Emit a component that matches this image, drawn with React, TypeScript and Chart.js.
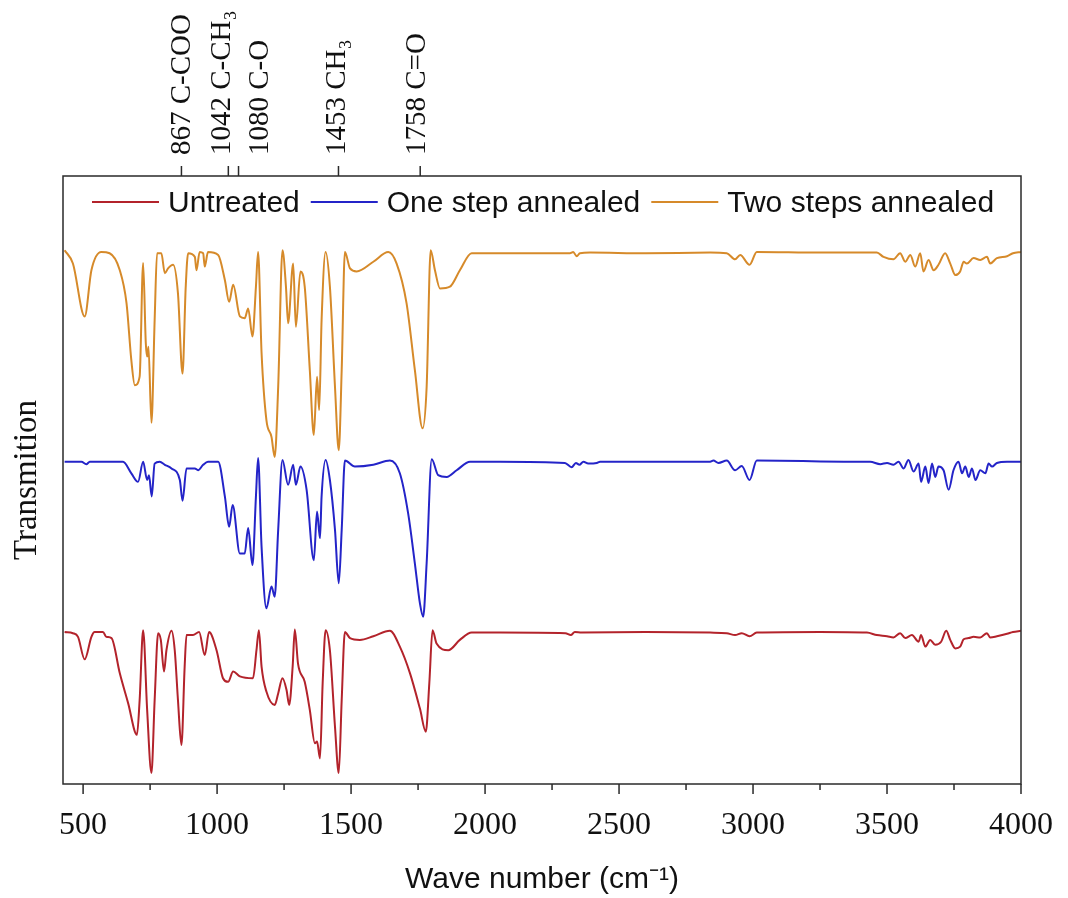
import { useEffect, useRef } from "react";
import { Chart, registerables } from "chart.js";

Chart.register(...registerables);

// Wavenumber range of the spectra (cm⁻¹)
const WAVE_MIN = 425;
const WAVE_MAX = 4000;

const majorTicks = [500, 1000, 1500, 2000, 2500, 3000, 3500, 4000];
const minorTicks = [750, 1250, 1750, 2250, 2750, 3250, 3750];

// Assigned absorption bands marked along the top edge
const peakWaves = [867, 1042, 1080, 1453, 1758];
const peakLabels = ["867 C-COO", "1042 C-CH₃", "1080 C-O", "1453 CH₃", "1758 C=O"];
// horizontal nudge (px) so neighbouring band labels do not collide
const peakLabelShift = [1, -6, 22, -1, -3];

const seriesNames = ["Untreated", "One step annealed", "Two steps annealed"];
const seriesColors = ["#B3232B", "#2424C8", "#D68A2A"];

// Stacked transmission traces: [wavenumber, offset transmission]
const untreated: [number, number][] = [
  [431, 25.0], [462, 24.8], [481, 24.2], [506, 20.5], [531, 24.2], [543, 25.0], [574, 25.0], [587, 24.2],
  [606, 24.0], [637, 18.2], [668, 13.3], [701, 8.1], [711, 13.8], [724, 25.3], [739, 12.2], [755, 1.8],
  [767, 13.8], [780, 24.8], [790, 23.7], [802, 18.5], [811, 22.0], [830, 25.2], [842, 22.0], [854, 13.8],
  [867, 6.4], [879, 19.3], [886, 24.5], [910, 24.5], [933, 25.0], [954, 21.2], [970, 25.0], [998, 22.0],
  [1022, 17.4], [1041, 16.8], [1060, 18.5], [1085, 17.7], [1134, 17.4], [1147, 22.0], [1156, 25.3],
  [1166, 19.3], [1184, 15.2], [1215, 13.0], [1228, 14.9], [1244, 17.4], [1259, 15.5], [1269, 13.0],
  [1282, 19.3], [1290, 25.4], [1302, 19.8], [1327, 16.8], [1346, 12.2], [1365, 6.7], [1373, 7.0],
  [1384, 4.2], [1394, 16.6], [1405, 25.3], [1421, 22.0], [1440, 9.4], [1454, 1.8], [1465, 13.8],
  [1477, 25.0], [1496, 24.0], [1533, 23.7], [1583, 24.3], [1645, 25.2], [1682, 22.6], [1720, 18.2],
  [1757, 12.4], [1779, 8.6], [1792, 16.6], [1804, 25.3], [1819, 23.1], [1863, 22.0], [1906, 23.7],
  [1950, 24.9], [2056, 24.9], [2300, 24.8], [2320, 24.5], [2335, 25.0], [2360, 24.9], [2600, 25.0],
  [2840, 24.9], [2902, 24.8], [2933, 24.5], [2958, 24.8], [2987, 24.3], [3014, 24.9], [3250, 25.0],
  [3425, 24.9], [3462, 24.5], [3500, 24.3], [3524, 24.1], [3549, 24.8], [3568, 24.0], [3593, 24.5],
  [3618, 23.4], [3627, 24.5], [3643, 22.6], [3661, 23.7], [3680, 22.9], [3702, 23.4], [3721, 25.2],
  [3736, 23.7], [3755, 22.3], [3773, 22.6], [3786, 23.8], [3805, 24.0], [3823, 24.2], [3848, 24.1],
  [3873, 24.8], [3885, 24.1], [3910, 24.3], [3948, 24.7], [3970, 25.0], [4000, 25.2],
];

const oneStep: [number, number][] = [
  [431, 53.0], [494, 53.0], [512, 52.6], [525, 53.0], [649, 53.0], [680, 51.1], [705, 49.7], [724, 53.0],
  [739, 50.0], [746, 50.8], [756, 47.3], [767, 52.7], [786, 53.0], [805, 52.5], [830, 51.9], [861, 50.0],
  [871, 46.6], [886, 51.9], [917, 51.9], [929, 51.6], [948, 52.5], [966, 53.0], [1004, 53.0], [1029, 47.3],
  [1045, 42.3], [1058, 45.9], [1085, 37.9], [1103, 37.9], [1116, 42.1], [1132, 36.0], [1145, 47.3],
  [1153, 53.6], [1166, 39.0], [1184, 28.9], [1203, 32.5], [1215, 30.8], [1228, 41.8], [1244, 53.3],
  [1265, 49.2], [1284, 52.5], [1294, 49.2], [1311, 52.2], [1334, 48.4], [1361, 36.8], [1373, 44.8],
  [1384, 40.4], [1390, 47.3], [1405, 53.3], [1421, 50.0], [1440, 41.8], [1454, 33.0], [1465, 41.8],
  [1477, 53.2], [1514, 52.2], [1583, 52.5], [1645, 53.2], [1682, 51.1], [1713, 44.5], [1738, 36.3],
  [1757, 29.7], [1769, 27.5], [1782, 36.3], [1801, 53.4], [1825, 50.8], [1857, 50.5], [1894, 51.6],
  [1944, 53.0], [2056, 53.0], [2298, 52.8], [2323, 52.1], [2339, 52.8], [2352, 52.5], [2367, 53.0],
  [2385, 52.7], [2417, 52.8], [2429, 53.0], [2840, 53.0], [2852, 53.2], [2871, 52.8], [2902, 53.2],
  [2933, 51.6], [2958, 52.3], [2987, 50.0], [3014, 53.2], [3425, 53.0], [3437, 53.0], [3475, 52.6],
  [3500, 52.8], [3524, 52.5], [3543, 53.0], [3562, 51.9], [3580, 53.3], [3599, 51.4], [3618, 52.7],
  [3627, 49.7], [3643, 52.2], [3655, 49.5], [3668, 52.7], [3680, 50.5], [3692, 52.2], [3711, 51.6],
  [3730, 48.4], [3748, 51.6], [3767, 53.0], [3780, 51.1], [3792, 52.2], [3805, 50.5], [3817, 51.9],
  [3830, 50.0], [3848, 51.6], [3867, 51.1], [3879, 52.7], [3892, 52.2], [3910, 52.8], [3948, 53.0],
  [3970, 53.0], [4000, 53.0],
];

const twoSteps: [number, number][] = [
  [431, 87.8], [462, 85.6], [506, 76.9], [531, 84.5], [568, 87.5], [599, 87.3], [637, 84.5], [662, 79.1],
  [680, 69.7], [693, 65.6], [711, 67.0], [724, 85.7], [734, 72.5], [739, 70.3], [744, 71.9], [755, 59.4],
  [767, 76.3], [776, 87.3], [792, 87.3], [805, 84.0], [817, 84.8], [836, 85.4], [854, 80.7], [871, 67.5],
  [883, 81.8], [892, 87.3], [917, 86.7], [923, 84.5], [935, 87.5], [948, 87.3], [954, 85.1], [966, 87.5],
  [1004, 87.0], [1029, 82.9], [1045, 79.3], [1060, 82.1], [1085, 76.9], [1103, 76.6], [1116, 78.2],
  [1132, 73.6], [1145, 81.8], [1153, 87.5], [1166, 70.9], [1184, 59.9], [1203, 57.1], [1215, 53.8],
  [1228, 65.3], [1244, 87.8], [1257, 81.8], [1265, 75.8], [1284, 85.6], [1294, 75.2], [1311, 84.3],
  [1327, 81.8], [1346, 68.1], [1361, 57.4], [1373, 67.0], [1381, 61.5], [1390, 76.3], [1405, 87.5],
  [1421, 81.8], [1440, 65.3], [1454, 54.9], [1465, 68.1], [1477, 87.5], [1496, 84.8], [1521, 84.3],
  [1583, 85.9], [1639, 87.5], [1670, 85.6], [1707, 79.1], [1738, 68.1], [1767, 58.5], [1782, 65.3],
  [1797, 87.8], [1813, 84.5], [1832, 81.5], [1869, 81.8], [1906, 84.5], [1950, 87.3], [2056, 87.3],
  [2317, 87.3], [2329, 87.5], [2342, 86.8], [2354, 87.3], [2392, 87.4], [2600, 87.3], [2840, 87.4],
  [2902, 87.3], [2933, 86.3], [2952, 87.0], [2987, 85.4], [3014, 87.5], [3250, 87.4], [3462, 87.4],
  [3487, 86.7], [3524, 86.3], [3549, 87.3], [3568, 85.9], [3587, 87.0], [3605, 85.1], [3624, 87.3],
  [3636, 84.3], [3655, 86.2], [3674, 84.5], [3692, 85.4], [3717, 87.3], [3736, 85.6], [3755, 83.7],
  [3773, 84.3], [3786, 85.9], [3798, 85.6], [3823, 86.5], [3848, 86.2], [3873, 86.7], [3885, 85.6],
  [3910, 86.5], [3948, 86.8], [3970, 87.3], [4000, 87.5],
];

const seriesData = [untreated, oneStep, twoSteps];

const SERIF = '"Liberation Serif", "Times New Roman", serif';
const SANS = '"Liberation Sans", Arial, sans-serif';
const INK = "#111";

// Box frame, bottom tick marks, band markers and the in-plot legend
const decorPlugin = {
  id: "decor",
  afterDraw(chart: any) {
    const { ctx, chartArea: a, scales } = chart;
    const xs = scales.x;
    ctx.save();

    ctx.strokeStyle = "#2a2a2a";
    ctx.lineWidth = 1.5;
    ctx.strokeRect(a.left, a.top, a.right - a.left, a.bottom - a.top);

    ctx.beginPath();
    majorTicks.forEach((v) => {
      const px = xs.getPixelForValue(v);
      ctx.moveTo(px, a.bottom);
      ctx.lineTo(px, a.bottom + 10);
    });
    minorTicks.forEach((v) => {
      const px = xs.getPixelForValue(v);
      ctx.moveTo(px, a.bottom);
      ctx.lineTo(px, a.bottom + 6);
    });
    peakWaves.forEach((v) => {
      const px = xs.getPixelForValue(v);
      ctx.moveTo(px, a.top);
      ctx.lineTo(px, a.top - 10);
    });
    ctx.stroke();

    ctx.fillStyle = INK;
    ctx.font = `29px ${SERIF}`;
    ctx.textAlign = "left";
    ctx.textBaseline = "middle";
    peakWaves.forEach((v, i) => {
      const px = xs.getPixelForValue(v) + peakLabelShift[i];
      ctx.save();
      ctx.translate(px, a.top - 21);
      ctx.rotate(-Math.PI / 2);
      ctx.fillText(peakLabels[i], 0, 0);
      ctx.restore();
    });

    ctx.font = `30px ${SANS}`;
    ctx.textBaseline = "alphabetic";
    let lx = a.left + 29;
    const lineY = a.top + 26;
    seriesNames.forEach((name, i) => {
      ctx.strokeStyle = seriesColors[i];
      ctx.lineWidth = 2;
      ctx.beginPath();
      ctx.moveTo(lx, lineY);
      ctx.lineTo(lx + 67, lineY);
      ctx.stroke();
      lx += 76;
      ctx.fillStyle = INK;
      ctx.fillText(name, lx, a.top + 36);
      lx += ctx.measureText(name).width + 11;
    });

    ctx.restore();
  },
};

export default function App() {
  const canvasRef = useRef<HTMLCanvasElement | null>(null);

  useEffect(() => {
    const canvas = canvasRef.current;
    if (!canvas) return;
    const chart = new Chart(canvas, {
      type: "line",
      data: {
        datasets: seriesData.map((pts, i) => ({
          label: seriesNames[i],
          data: pts.map(([x, y]) => ({ x, y })),
          borderColor: seriesColors[i],
          borderWidth: 2,
          pointRadius: 0,
          fill: false,
          cubicInterpolationMode: "monotone" as const,
        })),
      },
      options: {
        responsive: false,
        animation: false,
        devicePixelRatio: 1,
        layout: { padding: { top: 176, right: 47, left: 0, bottom: 0 } },
        plugins: {
          legend: { display: false },
          tooltip: { enabled: false },
        },
        scales: {
          x: {
            type: "linear",
            min: WAVE_MIN,
            max: WAVE_MAX,
            grid: { display: false, drawTicks: false },
            border: { display: false },
            afterBuildTicks(scale: any) {
              scale.ticks = majorTicks.map((value) => ({ value }));
            },
            ticks: {
              autoSkip: false,
              maxRotation: 0,
              padding: 22,
              color: INK,
              font: { family: SERIF, size: 32 },
              callback: (value: any) => String(value),
            },
            title: {
              display: true,
              text: "Wave number (cm⁻¹)",
              color: INK,
              font: { family: SANS, size: 30 },
              padding: 0,
            },
            afterFit(scale: any) {
              scale.height = 114;
              scale.paddingLeft = 0;
              scale.paddingRight = 0;
            },
          },
          y: {
            min: 0,
            max: 100,
            grid: { display: false, drawTicks: false },
            border: { display: false },
            ticks: { display: false },
            title: {
              display: true,
              text: "Transmition",
              color: INK,
              font: { family: SERIF, size: 33 },
              padding: { top: 8, bottom: 0 },
            },
            afterFit(scale: any) {
              scale.width = 63;
              scale.paddingTop = 0;
              scale.paddingBottom = 0;
            },
          },
        },
      },
      plugins: [decorPlugin],
    });
    return () => chart.destroy();
  }, []);

  return (
    <div style={{ position: "absolute", left: 0, top: 0, width: 1068, height: 898, background: "#fff" }}>
      <canvas ref={canvasRef} width={1068} height={898} style={{ display: "block" }} />
    </div>
  );
}
